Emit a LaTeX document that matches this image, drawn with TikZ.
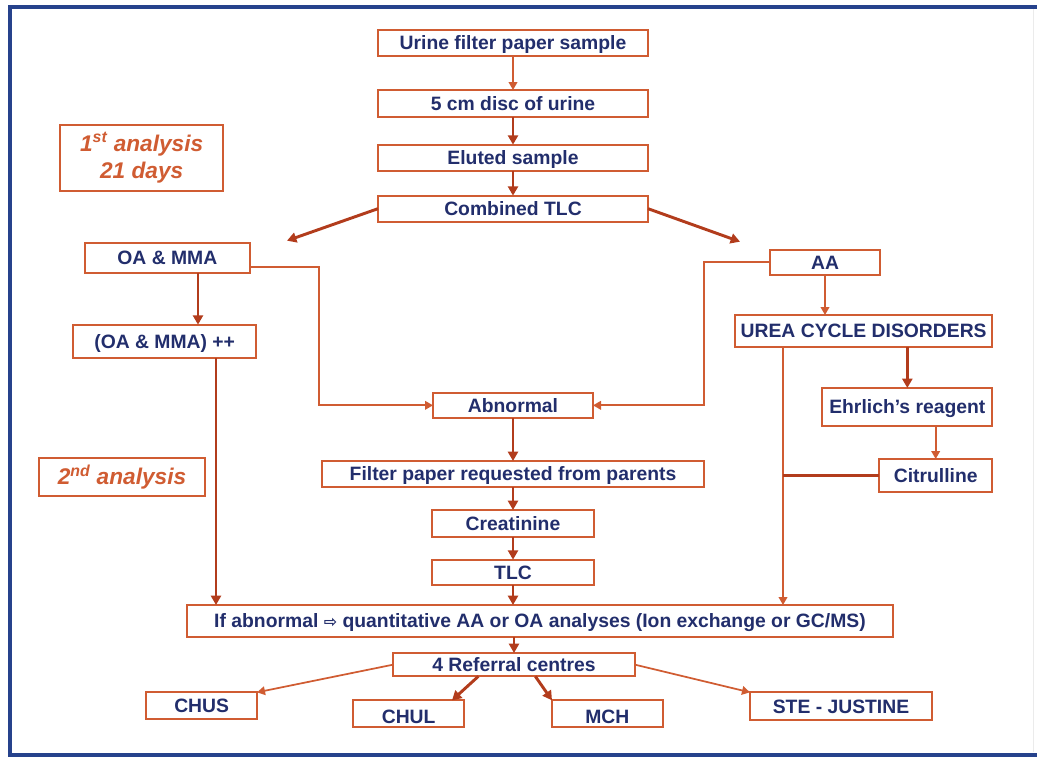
\documentclass[tikz,border=0pt]{standalone}
\usepackage{fontspec}
\setmainfont{Liberation Sans}
\newfontfamily\arrowfont{DejaVu Sans}
\usepackage{tikz}
\usetikzlibrary{shapes,arrows.meta,positioning}
\definecolor{boxred}{RGB}{208, 92, 50}
\definecolor{arrowred}{RGB}{178, 60, 28}
\definecolor{navy}{RGB}{34, 46, 108}
\definecolor{frameblue}{RGB}{38, 66, 140}
\tikzstyle{stepbox} = [rectangle, draw=boxred, line width=1.3pt, fill=white, text=navy, text centered, font=\bfseries\fontsize{14.5}{16}\selectfont, inner sep=0pt, outer sep=0pt, text height=11.5pt, text depth=1.5pt, minimum height=19.5pt]
\tikzstyle{notebox} = [rectangle, draw=boxred, line width=1.3pt, fill=white, text=boxred, align=center, font=\bfseries\itshape\fontsize{17}{20}\selectfont, inner sep=0pt, outer sep=0pt]
\tikzstyle{tedge}  = [draw, line width=2.2pt, color=arrowred, -{Triangle[length=7pt, width=7.5pt]}]
\tikzstyle{thinedge}  = [draw, line width=1.3pt, color=boxred, -{Triangle[length=6pt, width=6.5pt]}]
\tikzstyle{thickline}  = [draw, line width=2.2pt, color=arrowred]
\tikzstyle{lowtext} = [text height=14pt, text depth=0pt]

\begin{document}
\begin{tikzpicture}

% frame =============================
\useasboundingbox (0,0) rectangle (777.75pt,-570pt);
\draw[frameblue, line width=3.5pt] (777.75pt,-5.25pt) -- (7.5pt,-5.25pt) -- (7.5pt,-566.25pt) -- (777.75pt,-566.25pt);
\draw[black!8, line width=0.6pt] (775pt,-7pt) -- (775pt,-564pt);

% nodes
\node[stepbox, minimum width=202.5pt] (urine) at (384.75pt,-32.25pt) {Urine filter paper sample};
\node[stepbox, minimum width=202.5pt, minimum height=20pt, below=25.5pt of urine] (disc) {5 cm disc of urine};
\node[stepbox, minimum width=202.5pt, below=21pt of disc] (eluted) {Eluted sample};
\node[stepbox, minimum width=202.5pt, below=18.75pt of eluted] (combined) {Combined TLC};
\node[notebox, minimum width=122pt, minimum height=49.5pt, left=116.25pt of eluted] (first) {1\textsuperscript{st} analysis\\21 days};

\node[stepbox, minimum width=124pt, minimum height=22.5pt, below left=15.75pt and 96pt of combined] (oamma) {OA \& MMA};
\node[stepbox, minimum width=82.5pt, minimum height=19pt, below right=21pt and 91.5pt of combined] (aa) {AA};
\node[stepbox, minimum width=137pt, minimum height=25pt, below=39pt of oamma, xshift=-2pt] (oammapp) {(OA \& MMA) ++};
\node[stepbox, minimum width=193pt, minimum height=24pt, below=30pt of aa, xshift=29pt] (ucd) {UREA CYCLE DISORDERS};
\node[stepbox, minimum width=120pt, minimum height=19pt, below=128.25pt of combined] (abnormal) {Abnormal};
\node[stepbox, minimum width=127.5pt, minimum height=28.5pt, below=30.75pt of ucd.south east, anchor=north east] (ehrlich) {Ehrlich's reagent};
\node[stepbox, minimum width=85pt, minimum height=25pt, below=24.75pt of ehrlich.south east, anchor=north east] (citrulline) {Citrulline};

\node[stepbox, minimum width=286pt, below=32.25pt of abnormal] (filter) {Filter paper requested from parents};
\node[notebox, minimum width=125pt, minimum height=28.5pt, left=87.75pt of filter, yshift=-2.25pt] (second) {2\textsuperscript{nd} analysis};
\node[stepbox, minimum width=121.5pt, minimum height=20pt, below=17.25pt of filter] (creatinine) {Creatinine};
\node[stepbox, minimum width=121.5pt, minimum height=19pt, below=17.25pt of creatinine] (tlc) {TLC};
\node[stepbox, minimum width=529pt, minimum height=24pt, below=15pt of tlc, xshift=20.25pt] (ifab) {If abnormal {\arrowfont\fontsize{12}{12}\selectfont ⇨} quantitative AA or OA analyses (Ion exchange or GC/MS)};
\node[stepbox, minimum width=181.5pt, minimum height=17.5pt, below=12pt of ifab, xshift=-19.5pt] (referral) {4 Referral centres};

\node[stepbox, minimum width=83pt, minimum height=20pt, below left=12pt and 102pt of referral] (chus) {CHUS};
\node[stepbox, lowtext, minimum width=83pt, minimum height=20pt, below=18pt of referral, xshift=-79pt] (chul) {CHUL};
\node[stepbox, lowtext, minimum width=83pt, minimum height=20pt, below=18pt of referral, xshift=70pt] (mch) {MCH};
\node[stepbox, minimum width=136.5pt, minimum height=21pt, below right=12pt and 86.25pt of referral] (ste) {STE - JUSTINE};

% helper points
\coordinate[above right=1.5pt and 27.75pt of oamma.north east] (tipL);
\coordinate[above left=6pt and 22.5pt of aa.north west] (tipR);
\coordinate[right=23pt of oamma.south] (oammaleg);
\coordinate[below=7pt of oamma.east] (oammaout);
\coordinate[left=85.5pt of abnormal.west] (abnL);
\coordinate[right=83pt of abnormal.east] (abnR);
\coordinate[right=36pt of ucd.south west] (ucdleg);
\coordinate[right=38.5pt of oammapp.south] (oammappleg);
\coordinate[right=64pt of referral.south west] (refL);
\coordinate[left=9pt of chul.north east] (chulin);
\coordinate[right=16pt of referral.south] (refR);

% edges
\path[thinedge] (urine) -- (disc);
\path[tedge] (disc) -- (eluted);
\path[tedge] (eluted) -- (combined);
\path[tedge] (combined.west) -- (tipL);
\path[tedge] (combined.east) -- (tipR);

\path[tedge] (oammaleg) -- (oammaleg |- oammapp.north);
\path[thinedge] (oammaout) -| (abnL) -- (abnormal.west);
\path[thinedge] (aa.west) -| (abnR) -- (abnormal.east);
\path[thinedge] (aa.south) -- (aa.south |- ucd.north);
\path[tedge] (ehrlich.north |- ucd.south) -- (ehrlich.north);
\path[thinedge] (citrulline.north |- ehrlich.south) -- (citrulline.north);
\path[thinedge] (ucdleg) -- (ucdleg |- ifab.north);
\path[thickline] (citrulline.west) -- (citrulline.west -| ucdleg);
\path[tedge] (oammappleg) -- (oammappleg |- ifab.north);

\path[tedge] (abnormal) -- (filter);
\path[tedge] (filter) -- (creatinine);
\path[tedge] (creatinine) -- (tlc);
\path[tedge] (tlc) -- (tlc |- ifab.north);
\path[tedge] (referral.north |- ifab.south) -- (referral);

\path[thinedge] (referral.west) -- (chus.north east);
\path[tedge] (refL) -- (chulin);
\path[tedge] (refR) -- (mch.north west);
\path[thinedge] (referral.east) -- (ste.north west);

\end{tikzpicture}
\end{document}
